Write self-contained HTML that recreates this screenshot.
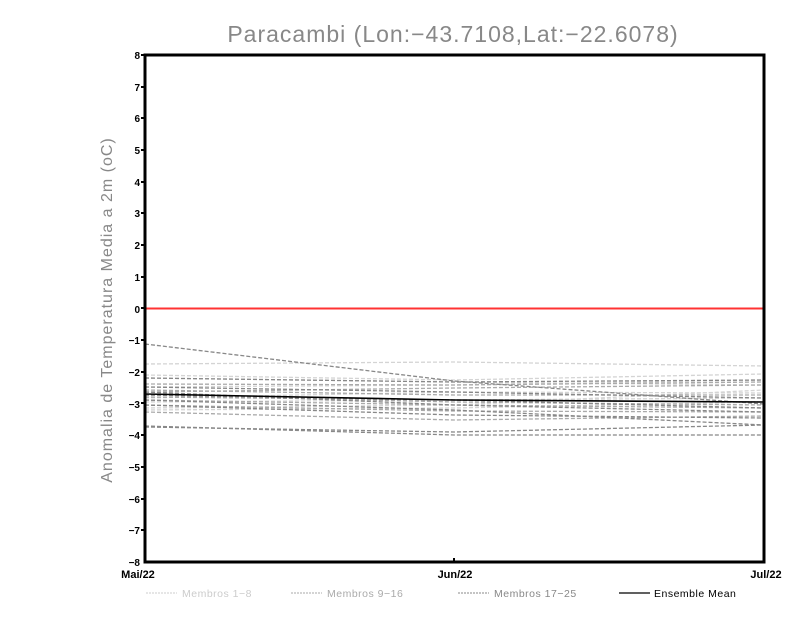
<!DOCTYPE html>
<html><head><style>body{margin:0;background:#fff}svg{display:block}</style></head><body>
<svg width="800" height="618" xmlns="http://www.w3.org/2000/svg" font-family="Liberation Sans, sans-serif">
<rect width="800" height="618" fill="#fff"/>
<text x="453" y="42" text-anchor="middle" font-size="23" fill="#888" letter-spacing="1">Paracambi (Lon:−43.7108,Lat:−22.6078)</text>
<text transform="translate(112,310) rotate(-90)" text-anchor="middle" font-size="16" fill="#888" letter-spacing="1">Anomalia de Temperatura Media a 2m (oC)</text>
<g font-size="10" font-weight="bold" text-anchor="end" fill="#000">
<text x="140" y="59">8</text><text x="140" y="91">7</text><text x="140" y="122">6</text><text x="140" y="154">5</text><text x="140" y="186">4</text><text x="140" y="217">3</text><text x="140" y="249">2</text><text x="140" y="281">1</text><text x="140" y="313">0</text><text x="140" y="344">−1</text><text x="140" y="376">−2</text><text x="140" y="408">−3</text><text x="140" y="439">−4</text><text x="140" y="471">−5</text><text x="140" y="503">−6</text><text x="140" y="534">−7</text><text x="140" y="566">−8</text>
</g>
<g stroke="#000" stroke-width="2">
<path d="M141 55h4M141 87h4M141 118h4M141 150h4M141 182h4M141 213h4M141 245h4M141 277h4M141 308h4M141 340h4M141 372h4M141 403h4M141 435h4M141 467h4M141 499h4M141 530h4M454 562v-4"/>
</g>
<g font-size="11" font-weight="bold" fill="#000" text-anchor="middle">
<text x="138" y="578">Mai/22</text><text x="455" y="578">Jun/22</text><text x="766" y="578">Jul/22</text>
</g>
<line x1="145" y1="308.5" x2="764" y2="308.5" stroke="#f33" stroke-width="2"/>
<g fill="none" stroke-width="1.3" stroke-dasharray="4,2">
<g stroke="#d4d4d4">
<polyline points="145,364 454,362 764,366"/>
<polyline points="145,375 454,380 764,374"/>
<polyline points="145,387 454,385 764,380"/>
<polyline points="145,398 454,392 764,393"/>
<polyline points="145,402 454,400 764,398"/>
<polyline points="145,408 454,405 764,390"/>
<polyline points="145,378 454,382 764,385"/>
<polyline points="145,410 454,408 764,402"/>
</g>
<g stroke="#aaa">
<polyline points="145,384 454,385 764,382"/>
<polyline points="145,390 454,395 764,395"/>
<polyline points="145,395 454,402 764,405"/>
<polyline points="145,400 454,405 764,408"/>
<polyline points="145,405 454,411 764,412"/>
<polyline points="145,412 454,420 764,416"/>
<polyline points="145,392 454,388 764,385"/>
<polyline points="145,397 454,400 764,402"/>
</g>
<g stroke="#888">
<polyline points="145,344 454,381 764,404"/>
<polyline points="145,378 454,382 764,380"/>
<polyline points="145,387 454,392 764,398"/>
<polyline points="145,392 454,405 764,412"/>
<polyline points="145,400 454,410 764,425"/>
<polyline points="145,405 454,415 764,418"/>
<polyline points="145,426 454,435 764,435"/>
<polyline points="145,427 454,432 764,425"/>
<polyline points="145,395 454,400 764,408"/>
</g>
</g>
<polyline points="145,394 454,400 764,402" fill="none" stroke="#000" stroke-width="1.6"/>
<rect x="145" y="55" width="619" height="507" fill="none" stroke="#000" stroke-width="3"/>
<g font-size="10.5" letter-spacing="0.5">
<line x1="146" y1="593" x2="177" y2="593" stroke="#ccc" stroke-dasharray="2,1"/>
<text x="182" y="597" fill="#ccc">Membros 1−8</text>
<line x1="291" y1="593" x2="322" y2="593" stroke="#aaa" stroke-dasharray="2,1"/>
<text x="327" y="597" fill="#aaa">Membros 9−16</text>
<line x1="458" y1="593" x2="489" y2="593" stroke="#888" stroke-dasharray="2,1"/>
<text x="494" y="597" fill="#888">Membros 17−25</text>
<line x1="619" y1="593" x2="650" y2="593" stroke="#000" stroke-width="1.3"/>
<text x="654" y="597" fill="#000">Ensemble Mean</text>
</g>
</svg>
</body></html>
